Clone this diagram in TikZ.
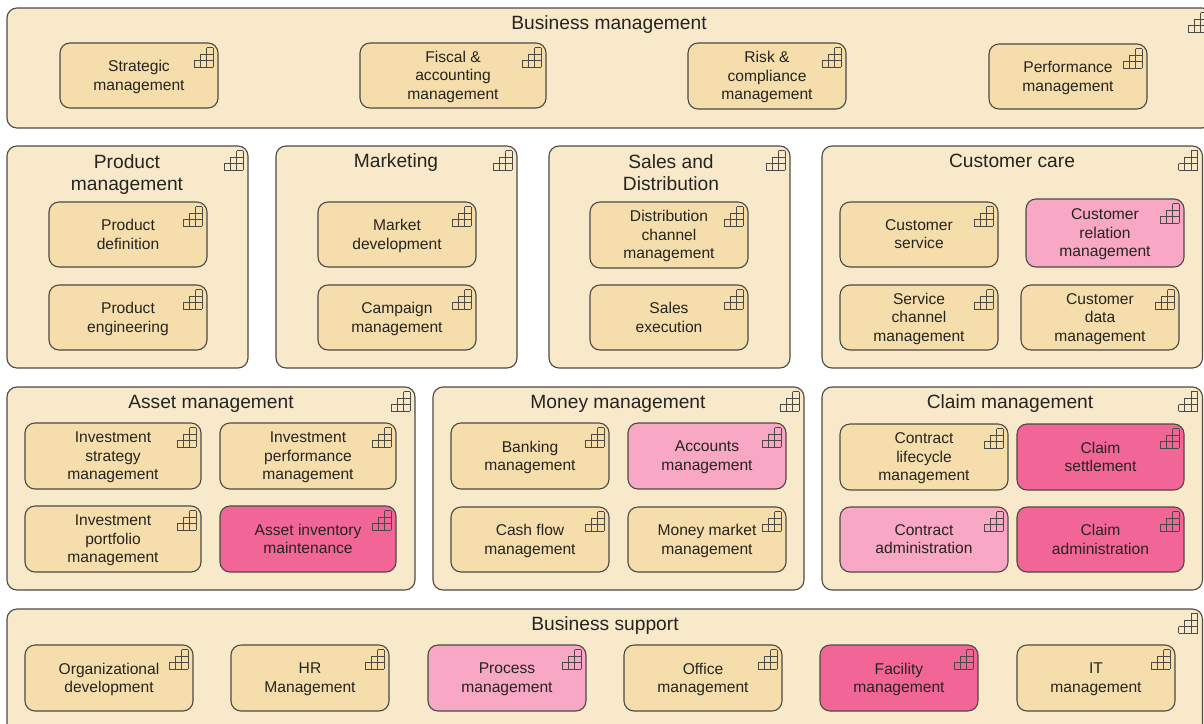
\documentclass[tikz,border=0pt]{standalone}
\usepackage{fontspec}
\setmainfont{Liberation Sans}
\definecolor{outerfill}{HTML}{F9E9CB}
\definecolor{innerfill}{HTML}{F5DEAB}
\definecolor{lightpink}{HTML}{F8A7C5}
\definecolor{darkpink}{HTML}{F26597}
\definecolor{edgecol}{HTML}{4B4A45}
\definecolor{textcol}{HTML}{26241F}
\tikzset{
  x=1pt,y=1pt,
  capbox/.style={draw=edgecol,line width=1.1pt,rounded corners=10pt,inner sep=0pt,outer sep=0pt,anchor=center},
  outerbox/.style={capbox,fill=outerfill},
  innerbox/.style={capbox,fill=innerfill},
  pinkbox/.style={capbox,fill=lightpink},
  redbox/.style={capbox,fill=darkpink},
  labeltext/.style={inner sep=0pt,text=textcol,align=center,font=\fontsize{15.6}{18.5}\selectfont,
    execute at begin node={\strut},execute at end node={\strut}},
  titletext/.style={inner sep=0pt,text=textcol,align=center,font=\fontsize{19.2}{22}\selectfont,
    execute at begin node={\strut},execute at end node={\strut}},
  iconline/.style={draw=edgecol,line width=0.85pt},
}
\newcommand{\boxicon}[1]{%
  \begin{scope}[shift={(#1.north east)}]
    \draw[iconline] (-24,-17.5) -- (-5,-17.5) (-24,-24) -- (-5,-24) (-24,-17.5) -- (-24,-24)
      (-18,-11) -- (-5,-11) (-18,-11) -- (-18,-24)
      (-11.5,-4.5) -- (-5,-4.5) (-11.5,-4.5) -- (-11.5,-24) (-5,-4.5) -- (-5,-24);
  \end{scope}%
}
% name, x1, y1, x2, y2, style
\newcommand{\bxo}[6]{%
  \node[#6,minimum width={(#4-#2)*1pt},minimum height={(#5-#3)*1pt}] (#1) at ({(#2+#4)/2},{-(#3+#5)/2}) {};
  \boxicon{#1}%
}
% name, x1, y1, x2, y2, style, text
\newcommand{\bx}[7]{%
  \bxo{#1}{#2}{#3}{#4}{#5}{#6}
  \node[labeltext] (#1-text) at ({(#2+#4)/2},{-(#3+#5)/2-2.5}) {#7};
}
\newcommand{\ttl}[4]{\node[titletext] (#1) at (#2,{-#3-2.5}) {#4};}
\begin{document}
\begin{tikzpicture}
\useasboundingbox (0,0) rectangle (1204,-723);
\clip (0,0) rectangle (1204,-723);
\fill[white] (0,0) rectangle (1204,-723);
% Business management
\bxo{bm}{7}{8}{1212}{128}{outerbox}
\ttl{bmt}{609}{23}{Business management}
\bx{strat}{60}{43}{218}{108}{innerbox}{Strategic\\management}
\bx{fiscal}{360}{43}{546}{108}{innerbox}{Fiscal \&\\accounting\\management}
\bx{risk}{688}{43}{846}{109}{innerbox}{Risk \&\\compliance\\management}
\bx{perf}{989}{44}{1147}{109}{innerbox}{Performance\\management}
% Row 2
\bxo{pm}{7}{146}{248}{368}{outerbox}
\ttl{pmt}{127}{173.5}{Product\\management}
\bx{pdef}{49}{202}{207}{267}{innerbox}{Product\\definition}
\bx{peng}{49}{285}{207}{350}{innerbox}{Product\\engineering}
\bxo{mk}{276}{146}{517}{368}{outerbox}
\ttl{mkt}{396}{161}{Marketing}
\bx{mdev}{318}{202}{476}{267}{innerbox}{Market\\development}
\bx{camp}{318}{285}{476}{350}{innerbox}{Campaign\\management}
\bxo{sd}{549}{146}{790}{368}{outerbox}
\ttl{sdt}{671}{173.5}{Sales and\\Distribution}
\bx{dist}{590}{202}{748}{268}{innerbox}{Distribution\\channel\\management}
\bx{sexe}{590}{285}{748}{350}{innerbox}{Sales\\execution}
\bxo{cc}{822}{146}{1202.5}{368}{outerbox}
\ttl{cct}{1012}{161}{Customer care}
\bx{cserv}{840}{202}{998}{267}{innerbox}{Customer\\service}
\bx{crm}{1026}{199}{1184}{267}{pinkbox}{Customer\\relation\\management}
\bx{schan}{840}{285}{998}{350}{innerbox}{Service\\channel\\management}
\bx{cdata}{1021}{285}{1179}{350}{innerbox}{Customer\\data\\management}
% Row 3
\bxo{am}{7}{387}{415}{590}{outerbox}
\ttl{amt}{211}{402}{Asset management}
\bx{istr}{25}{423}{201}{489}{innerbox}{Investment\\strategy\\management}
\bx{iperf}{220}{423}{396}{489}{innerbox}{Investment\\performance\\management}
\bx{iport}{25}{506}{201}{572}{innerbox}{Investment\\portfolio\\management}
\bx{ainv}{220}{506}{396}{572}{redbox}{Asset inventory\\maintenance}
\bxo{mm}{433}{387}{804}{590}{outerbox}
\ttl{mmt}{618}{402}{Money management}
\bx{bank}{451}{423}{609}{489}{innerbox}{Banking\\management}
\bx{acc}{628}{423}{786}{489}{pinkbox}{Accounts\\management}
\bx{cash}{451}{507}{609}{572}{innerbox}{Cash flow\\management}
\bx{mmkt}{628}{507}{786}{572}{innerbox}{Money market\\management}
\bxo{clm}{822}{387}{1202.5}{590}{outerbox}
\ttl{clmt}{1010}{402}{Claim management}
\bx{clife}{840}{424}{1008}{490}{innerbox}{Contract\\lifecycle\\management}
\bx{cset}{1017}{424}{1184}{490}{redbox}{Claim\\settlement}
\bx{cadm}{840}{507}{1008}{572}{pinkbox}{Contract\\administration}
\bx{cladm}{1017}{507}{1184}{572}{redbox}{Claim\\administration}
% Business support
\bxo{bs}{7}{609}{1202.5}{735}{outerbox}
\ttl{bst}{605}{624}{Business support}
\bx{org}{25}{645}{193}{711}{innerbox}{Organizational\\development}
\bx{hr}{231}{645}{389}{711}{innerbox}{HR\\Management}
\bx{proc}{428}{645}{586}{711}{pinkbox}{Process\\management}
\bx{off}{624}{645}{782}{711}{innerbox}{Office\\management}
\bx{fac}{820}{645}{978}{711}{redbox}{Facility\\management}
\bx{it}{1017}{645}{1175}{711}{innerbox}{IT\\management}
\end{tikzpicture}
\end{document}
